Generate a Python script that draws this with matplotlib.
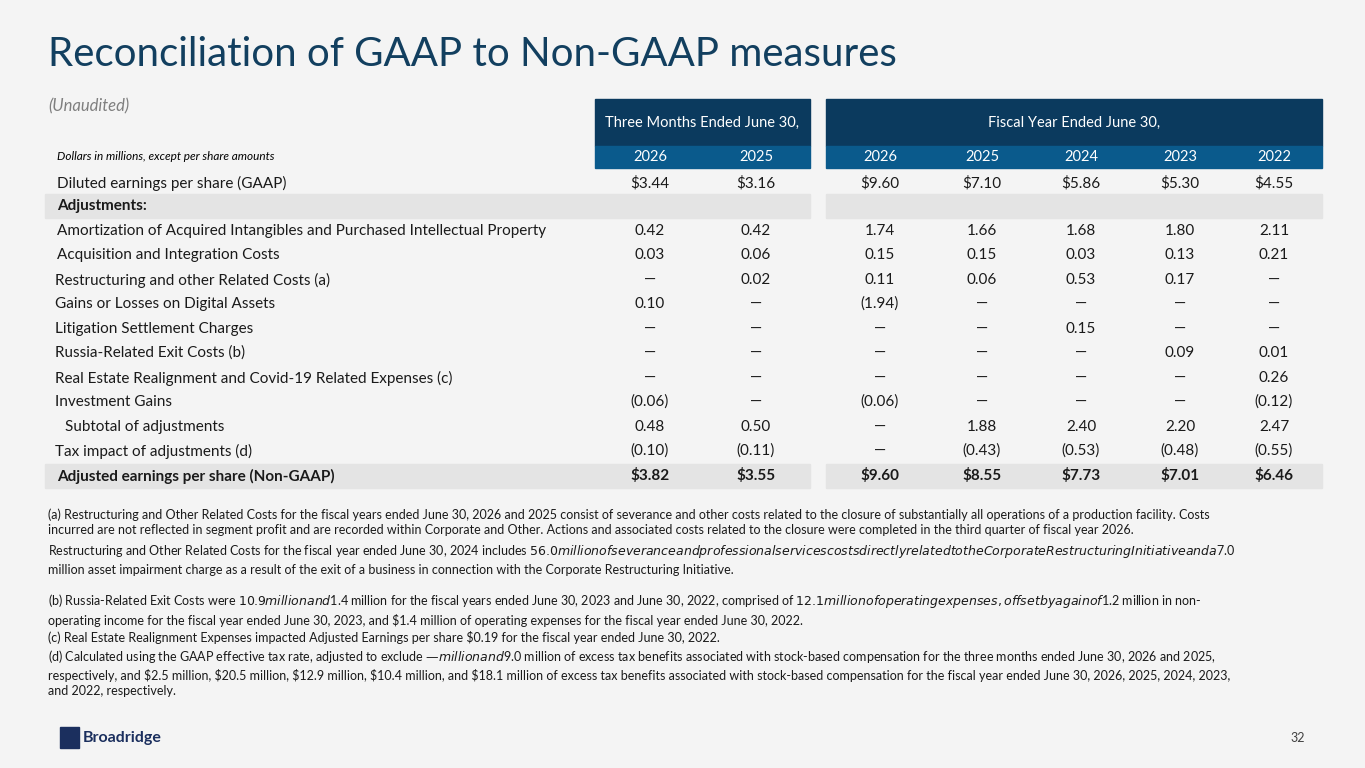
import matplotlib.pyplot as plt
import matplotlib.patches as mpatches

plt.rcParams['font.family'] = ['Lato', 'DejaVu Sans']

# Table content
row_labels = ["Diluted earnings per share (GAAP)", "Adjustments:",
              "Amortization of Acquired Intangibles and Purchased Intellectual Property",
              "Acquisition and Integration Costs", "Restructuring and other Related Costs (a)",
              "Gains or Losses on Digital Assets", "Litigation Settlement Charges",
              "Russia-Related Exit Costs (b)", "Real Estate Realignment and Covid-19 Related Expenses (c)",
              "Investment Gains", "Subtotal of adjustments", "Tax impact of adjustments (d)",
              "Adjusted earnings per share (Non-GAAP)"]
label_indent = [0, 0, 0, 0, -2, -2, -2, -2, -2, -2, 8, -2, 0]
col_years = ["2026", "2025", "2026", "2025", "2024", "2023", "2022"]
q2026 = ["$3.44", "", "0.42", "0.03", "—", "0.10", "—", "—", "—", "(0.06)", "0.48", "(0.10)", "$3.82"]
q2025 = ["$3.16", "", "0.42", "0.06", "0.02", "—", "—", "—", "—", "—", "0.50", "(0.11)", "$3.55"]
fy2026 = ["$9.60", "", "1.74", "0.15", "0.11", "(1.94)", "—", "—", "—", "(0.06)", "—", "—", "$9.60"]
fy2025 = ["$7.10", "", "1.66", "0.15", "0.06", "—", "—", "—", "—", "—", "1.88", "(0.43)", "$8.55"]
fy2024 = ["$5.86", "", "1.68", "0.03", "0.53", "—", "0.15", "—", "—", "—", "2.40", "(0.53)", "$7.73"]
fy2023 = ["$5.30", "", "1.80", "0.13", "0.17", "—", "—", "0.09", "—", "—", "2.20", "(0.48)", "$7.01"]
fy2022 = ["$4.55", "", "2.11", "0.21", "—", "—", "—", "0.01", "0.26", "(0.12)", "2.47", "(0.55)", "$6.46"]
footnotes = [
    "(a) Restructuring and Other Related Costs for the fiscal years ended June 30, 2026 and 2025 consist of severance and other costs related to the closure of substantially all operations of a production facility. Costs\nincurred are not reflected in segment profit and are recorded within Corporate and Other. Actions and associated costs related to the closure were completed in the third quarter of fiscal year 2026.",
    "Restructuring and Other Related Costs for the fiscal year ended June 30, 2024 includes $56.0 million of severance and professional services costs directly related to the Corporate Restructuring Initiative and a $7.0\nmillion asset impairment charge as a result of the exit of a business in connection with the Corporate Restructuring Initiative.",
    "(b) Russia-Related Exit Costs were $10.9 million and $1.4 million for the fiscal years ended June 30, 2023 and June 30, 2022, comprised of $12.1 million of operating expenses, offset by a gain of $1.2 million in non-\noperating income for the fiscal year ended June 30, 2023, and $1.4 million of operating expenses for the fiscal year ended June 30, 2022.",
    "(c) Real Estate Realignment Expenses impacted Adjusted Earnings per share $0.19 for the fiscal year ended June 30, 2022.",
    "(d) Calculated using the GAAP effective tax rate, adjusted to exclude $— million and $9.0 million of excess tax benefits associated with stock-based compensation for the three months ended June 30, 2026 and 2025,\nrespectively, and $2.5 million, $20.5 million, $12.9 million, $10.4 million, and $18.1 million of excess tax benefits associated with stock-based compensation for the fiscal year ended June 30, 2026, 2025, 2024, 2023,\nand 2022, respectively.",
]
foot_y = [508, 543, 592, 631, 648]

navy = '#0b3a5e'
blue = '#0a5a8c'
band = '#e4e4e4'

fig = plt.figure(figsize=(13.65, 7.68), dpi=100, facecolor='#f4f4f4')
ax = fig.add_axes([0, 0, 1, 1])
ax.set_xlim(0, 1365)
ax.set_ylim(768, 0)
ax.axis('off')

ax.text(48, 55, "Reconciliation of GAAP to Non-GAAP measures", fontsize=29, color='#123f5f', va='center')
ax.text(48, 106, "(Unaudited)", fontsize=12, style='italic', color='#7f7f7f', va='center')
ax.text(57, 157, "Dollars in millions, except per share amounts", fontsize=8.5, style='italic', va='center')

# header blocks
ax.add_patch(mpatches.Rectangle((595, 99), 215, 47, color=navy))
ax.add_patch(mpatches.Rectangle((826, 99), 496, 47, color=navy))
ax.add_patch(mpatches.Rectangle((595, 146), 215, 22, color=blue))
ax.add_patch(mpatches.Rectangle((826, 146), 496, 22, color=blue))
ax.text(702, 123, "Three Months Ended June 30,", fontsize=10.5, color='white', ha='center', va='center')
ax.text(1074, 123, "Fiscal Year Ended June 30,", fontsize=10.5, color='white', ha='center', va='center')

col_x = [650, 756, 880, 982, 1081, 1180, 1274]
for x, yr in zip(col_x, col_years):
    ax.text(x, 157, yr, fontsize=10.5, color='white', ha='center', va='center')

# rows
row_y = [183, 206, 231, 255, 280, 304, 329, 353, 378, 402, 427, 451, 476]
columns = [q2026, q2025, fy2026, fy2025, fy2024, fy2023, fy2022]
for i, (label, y) in enumerate(zip(row_labels, row_y)):
    bold = label.startswith("Adjust")
    if bold:
        ax.add_patch(mpatches.Rectangle((45, y - 12), 765, 24, color=band))
        ax.add_patch(mpatches.Rectangle((826, y - 12), 496, 24, color=band))
    ax.text(57 + label_indent[i], y, label, fontsize=11, fontweight='bold' if bold else 'normal',
            va='center', color='#1a1a1a')
    for x, col in zip(col_x, columns):
        ax.text(x, y, col[i], fontsize=11, fontweight='bold' if bold else 'normal',
                ha='center', va='center', color='#1a1a1a')

for note, y in zip(footnotes, foot_y):
    ax.text(48, y, note, fontsize=9, va='top', color='#1a1a1a', linespacing=1.35)

# logo and page number
ax.add_patch(mpatches.Rectangle((60, 727), 19, 21, color='#1b2f5e'))
ax.text(83, 738, "Broadridge", fontsize=11.5, fontweight='bold', color='#1b2f5e', va='center')
ax.text(1305, 738, "32", fontsize=9, color='#404040', ha='right', va='center')

fig.savefig('out.png', dpi=100, facecolor=fig.get_facecolor())
